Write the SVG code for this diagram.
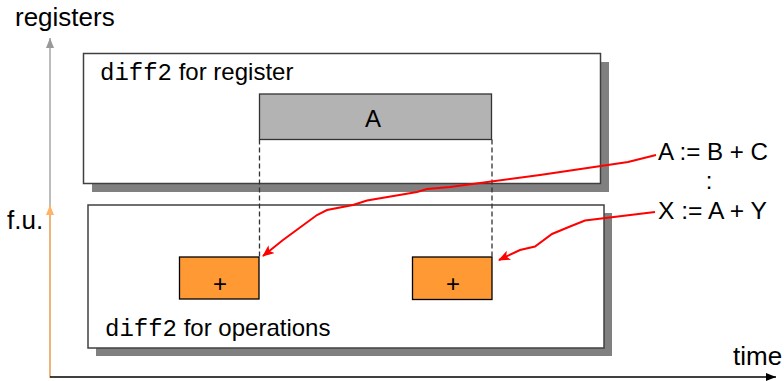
<svg xmlns="http://www.w3.org/2000/svg" width="784" height="381" viewBox="0 0 784 381">
  <style>
    .lbl { font-family: "Liberation Sans", Arial, sans-serif; font-size: 24px; fill: #000; }
    .axis-lbl { font-size: 26px; }
    .mono { font-family: "Liberation Mono", "Courier New", monospace; }
    .frame { fill: #fff; stroke: #404040; stroke-width: 1.5; }
    .shadow { fill: #808080; }
    .dash { stroke: #333; stroke-width: 1.3; stroke-dasharray: 5 3; fill: none; }
    .op { fill: #ff9933; stroke: #000; stroke-width: 1.3; }
    .link { stroke: #ff0000; stroke-width: 2; fill: none; }
  </style>
  <defs>
    <marker id="arrRed" viewBox="0 0 12 10" refX="11" refY="5" markerWidth="12" markerHeight="10" markerUnits="userSpaceOnUse" orient="auto">
      <path d="M0,0 L12,5 L0,10 L3,5 Z" fill="#ff0000"/>
    </marker>
    <marker id="arrBlack" viewBox="0 0 10 8" refX="10" refY="4" markerWidth="10" markerHeight="8" markerUnits="userSpaceOnUse" orient="auto">
      <path d="M0,0 L10,4 L0,8 Z" fill="#000"/>
    </marker>
    <marker id="arrGray" viewBox="0 0 8 10" refX="4" refY="0" markerWidth="8" markerHeight="10" markerUnits="userSpaceOnUse" orient="0">
      <path d="M4,0 L8,10 L0,10 Z" fill="#999"/>
    </marker>
    <marker id="arrOrange" viewBox="0 0 8 10" refX="4" refY="0" markerWidth="8" markerHeight="10" markerUnits="userSpaceOnUse" orient="0">
      <path d="M4,0 L8,10 L0,10 Z" fill="#ffb366"/>
    </marker>
  </defs>

  <!-- axes -->
  <g id="axes">
    <line x1="50" y1="377" x2="50" y2="38" stroke="#999" stroke-width="1.3" marker-end="url(#arrGray)"/>
    <line x1="50" y1="378" x2="50" y2="205" stroke="#ffb366" stroke-width="1.5" marker-end="url(#arrOrange)"/>
    <line x1="50" y1="377" x2="776" y2="377" stroke="#000" stroke-width="1.3" marker-end="url(#arrBlack)"/>
    <text class="lbl axis-lbl" x="15" y="26">registers</text>
    <text class="lbl axis-lbl" x="7" y="229">f.u.</text>
    <text class="lbl axis-lbl" x="733" y="365">time</text>
  </g>

  <!-- register frame -->
  <g id="register-frame">
    <rect class="shadow" x="92" y="62" width="517" height="130"/>
    <rect class="frame" x="83.5" y="53.5" width="517" height="130"/>
    <text class="lbl" x="100" y="80"><tspan class="mono">diff2</tspan> for register</text>
  </g>

  <!-- operations frame -->
  <g id="operations-frame">
    <rect class="shadow" x="96" y="213" width="516" height="143"/>
    <rect class="frame" x="88" y="205" width="516" height="143"/>
    <text class="lbl" x="105" y="336"><tspan class="mono">diff2</tspan> for operations</text>
  </g>

  <!-- register lifetime -->
  <g id="reg-A">
    <rect x="259.5" y="94" width="232" height="45.5" fill="#b3b3b3" stroke="#333" stroke-width="1.3"/>
    <text class="lbl" x="373" y="127" text-anchor="middle">A</text>
  </g>

  <!-- adder operations -->
  <g id="op-add1">
    <rect class="op" x="179.5" y="257" width="79.5" height="42"/>
    <text class="lbl" x="220" y="292" text-anchor="middle">+</text>
  </g>
  <g id="op-add2">
    <rect class="op" x="412.5" y="257" width="79.5" height="42.5"/>
    <text class="lbl" x="453" y="292" text-anchor="middle">+</text>
  </g>

  <!-- statements -->
  <g id="statements">
    <text class="lbl" x="658" y="160" textLength="110" lengthAdjust="spacingAndGlyphs">A := B + C</text>
    <text class="lbl" x="709" y="189" text-anchor="middle">:</text>
    <text class="lbl" x="658" y="219" textLength="109" lengthAdjust="spacingAndGlyphs">X := A + Y</text>
  </g>

  <!-- connectors -->
  <g id="connectors">
    <line class="dash" x1="259.5" y1="139.5" x2="259.5" y2="257"/>
    <line class="dash" x1="492" y1="139.5" x2="492" y2="257"/>
    <path class="link" marker-end="url(#arrRed)" d="M656,155 L628,162 L540,175 L450,187 L427,189 L417,192 L367,200.5 L353,205 L327,210 L317,215 L283,240 L263,256"/>
    <path class="link" marker-end="url(#arrRed)" d="M655,212 L585,220.5 L570,226.5 L552,234 L535,246.5 L520,250 L499,260"/>
  </g>
</svg>
